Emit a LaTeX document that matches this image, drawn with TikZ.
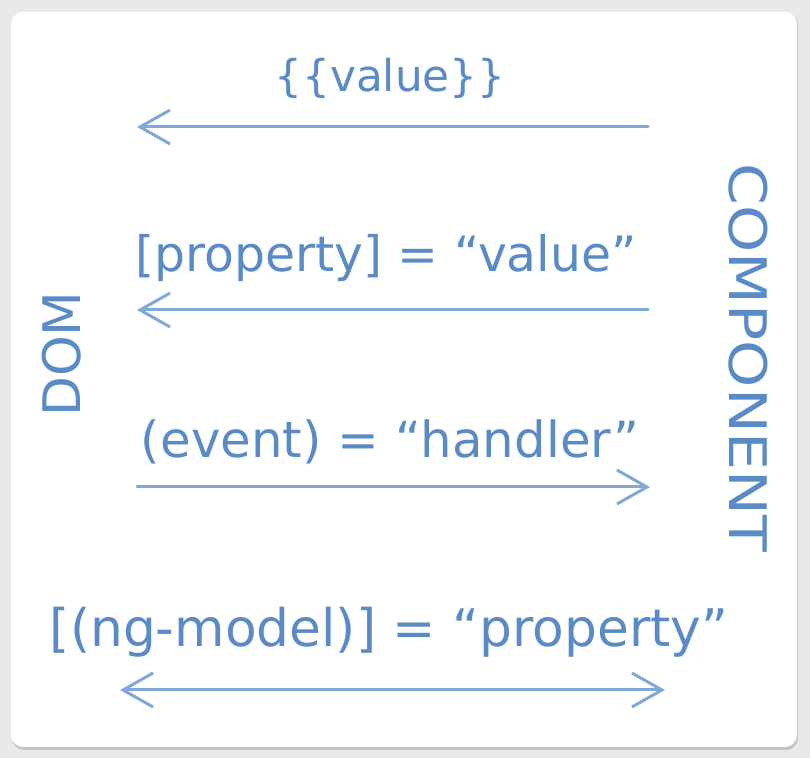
\documentclass[tikz,border=0pt]{standalone}
\usepackage{fontspec}
\setmainfont{DejaVu Sans}
\usetikzlibrary{arrows.meta}

\definecolor{pagegray}{HTML}{E9E9E9}
\definecolor{shadegray}{HTML}{C4C4C4}
\definecolor{inkblue}{HTML}{5B8BC6}
\definecolor{lineblue}{HTML}{80A9DA}

\tikzset{
  binding/.style = {text=inkblue, font=\fontsize{#1}{#1}\selectfont, inner sep=0pt},
  side/.style = {text=inkblue, font=\fontsize{#1}{#1}\selectfont, inner sep=0pt},
  barb/.tip = {Straight Barb[length=30bp, width=34bp, line width=3bp]},
  flow/.style = {lineblue, line width=3bp, line cap=round, -barb},
  twoway/.style = {flow, barb-barb}
}

\begin{document}
\begin{tikzpicture}[x=1bp, y=1bp]

% page and card
\fill[pagegray] (0,0) rectangle (810,758);
\fill[shadegray, rounded corners=12bp] (12,8) rectangle (798,745);
\fill[white, rounded corners=12bp] (11,11) rectangle (797,746);

% side labels
\node[side=52, rotate=90] (dom) at (62,404) {DOM};
\node[side=52, rotate=-90, xscale=1.16] (component) at (748,400) {COMPONENT};

% binding texts
\node[binding=44] (interp) at (390,680) {\{\{value\}\}};
\node[binding=49] (prop) at (386,500) {[property] = “value”};
\node[binding=50] (event) at (390,316) {(event) = “handler”};
\node[binding=52] (model) at (389,126) {[(ng-model)] = “property”};

% arrow ends
\coordinate (interpR) at (648,631);
\coordinate (interpL) at (137,631);
\coordinate (propR) at (648,448);
\coordinate (propL) at (137,448);
\coordinate (eventL) at (137,271);
\coordinate (eventR) at (650,271);
\coordinate (modelL) at (120,68);
\coordinate (modelR) at (665,68);

\draw[flow] (interpR) -- (interpL);
\draw[flow] (propR) -- (propL);
\draw[flow] (eventL) -- (eventR);
\draw[twoway] (modelL) -- (modelR);

\end{tikzpicture}
\end{document}
